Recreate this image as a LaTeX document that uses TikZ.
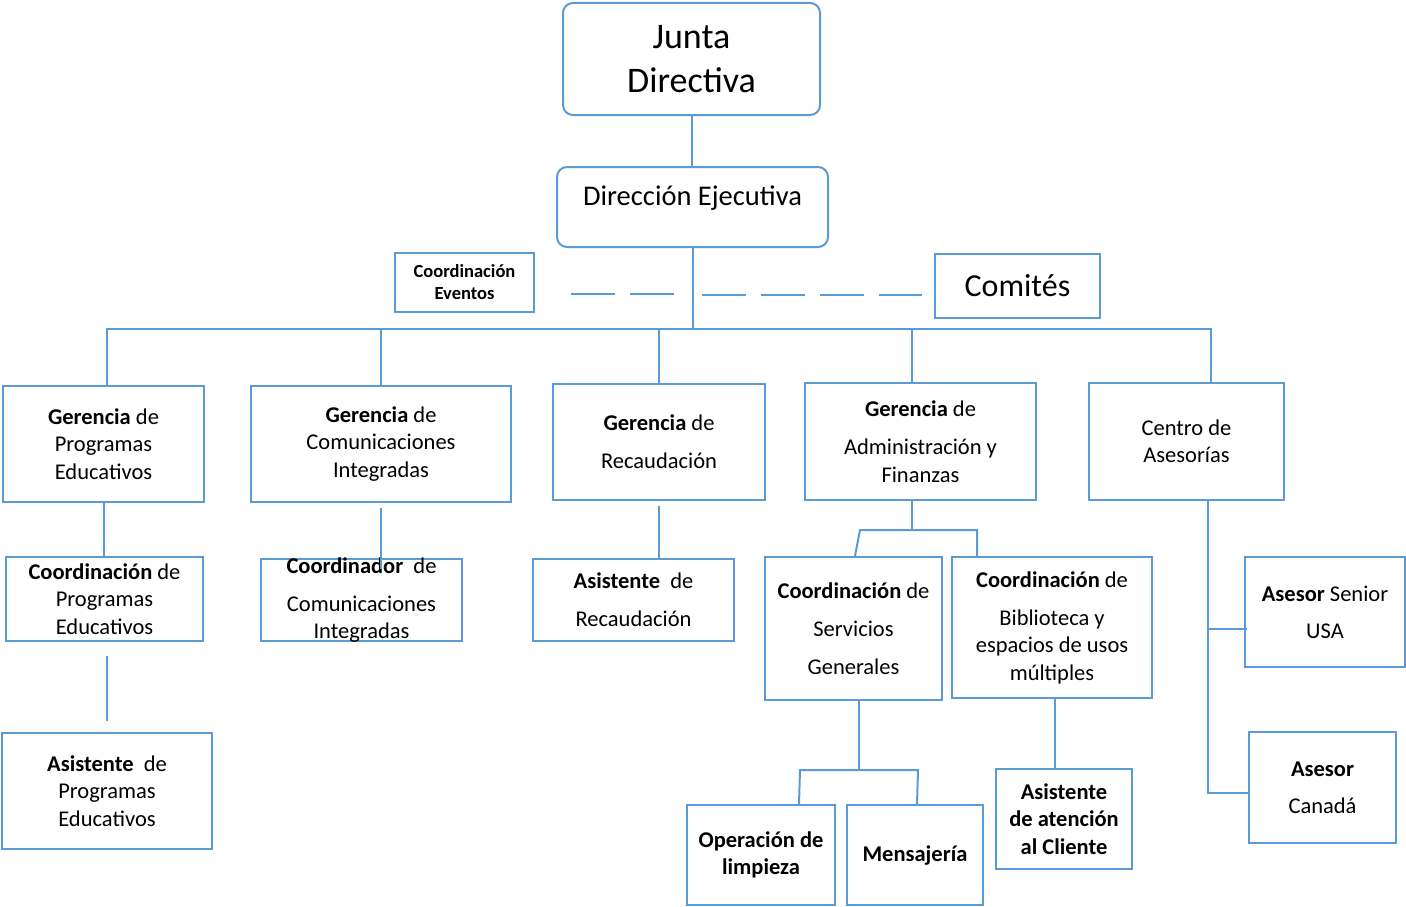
\documentclass[tikz,border=0pt]{standalone}
\usepackage{fontspec}
\setmainfont{Carlito}
\usetikzlibrary{positioning}
\definecolor{azul}{RGB}{91,155,213}

\begin{document}
\begin{tikzpicture}[x=1pt, y=-1pt,
    caja/.style={draw=azul, line width=2pt, inner sep=0pt, align=center, font=\fontsize{22.5}{27.5}\selectfont},
    cajar/.style={caja, rounded corners=10pt},
    linea/.style={draw=azul, line width=2pt},
    discontinua/.style={linea, dash pattern=on 44pt off 15pt}]
  \useasboundingbox (0,0) rectangle (1406,907);

  % Nodos
  \node[cajar, minimum width=257pt, minimum height=112pt, font=\fontsize{36}{44}\selectfont] (junta) at (691.5,59) {Junta\\Directiva};
  \node[cajar, minimum width=271pt, minimum height=80pt, font=\fontsize{28.5}{34}\selectfont, text height=20pt, text depth=24pt] (dir) at (692.5,207) {Dirección Ejecutiva};
  \node[caja, minimum width=139pt, minimum height=59pt, font=\bfseries\fontsize{18.5}{22}\selectfont] (ceve) at (464.5,282) {Coordinación\\Eventos};
  \node[caja, minimum width=165pt, minimum height=64pt, font=\fontsize{32}{39}\selectfont] (comites) at (1017.5,286) {Comités};

  \node[caja, minimum width=201pt, minimum height=116pt] (gpe) at (103.5,444) {\textbf{Gerencia} de\\Programas\\Educativos};
  \node[caja, minimum width=260pt, minimum height=116pt] (gci) at (381,444) {\textbf{Gerencia} de\\Comunicaciones\\Integradas};
  \node[caja, minimum width=212pt, minimum height=116pt] (grec) at (659,442) {\textbf{Gerencia} de\\[10.5pt]Recaudación};
  \node[caja, minimum width=231pt, minimum height=117pt] (gaf) at (920.5,441.5) {\textbf{Gerencia} de\\[10.5pt]Administración y\\Finanzas};
  \node[caja, minimum width=195pt, minimum height=117pt] (cas) at (1186.5,441.5) {Centro de\\Asesorías};

  \node[caja, minimum width=197pt, minimum height=84pt] (cpe) at (104.5,599) {\textbf{Coordinación} de\\Programas\\Educativos};
  \node[caja, minimum width=201pt, minimum height=82pt, inner ysep=-5pt] (cci) at (361.5,600) {\textbf{Coordinador}~~de\\[10.5pt]Comunicaciones\\Integradas};
  \node[caja, minimum width=201pt, minimum height=82pt] (arec) at (633.5,600) {\textbf{Asistente}~~de\\[10.5pt]Recaudación};
  \node[caja, minimum width=177pt, minimum height=143pt] (csg) at (853.5,628.5) {\textbf{Coordinación} de\\[10.5pt]Servicios\\[10.5pt]Generales};
  \node[caja, minimum width=200pt, minimum height=141pt] (cbib) at (1052,627.5) {\textbf{Coordinación} de\\[10.5pt]Biblioteca y\\espacios de usos\\múltiples};
  \node[caja, minimum width=160pt, minimum height=110pt] (usa) at (1325,612) {\textbf{Asesor} Senior\\[9.5pt]USA};

  \node[caja, minimum width=210pt, minimum height=116pt] (ape) at (107,791) {\textbf{Asistente}~~de\\Programas\\Educativos};
  \node[caja, minimum width=148pt, minimum height=100pt, font=\bfseries\fontsize{22.5}{27.5}\selectfont] (oplim) at (761,855) {Operación de\\limpieza};
  \node[caja, minimum width=136pt, minimum height=100pt, font=\bfseries\fontsize{22.5}{27.5}\selectfont] (mens) at (915,855) {Mensajería};
  \node[caja, minimum width=136pt, minimum height=100pt, font=\bfseries\fontsize{22.5}{27.5}\selectfont] (aac) at (1064,819) {Asistente\\de atención\\al Cliente};
  \node[caja, minimum width=147pt, minimum height=111pt] (can) at (1322.5,787.5) {\textbf{Asesor}\\[9.5pt]Canadá};

  \coordinate (bus) at (692,330);
  \coordinate (d1) at (571,294);
  \coordinate (d2) at (675,294);
  \coordinate (d3) at (702,295);
  \coordinate (d4) at (922,295);
  \coordinate (hor1) at (912,531);
  \coordinate (hor2) at (859,771);

  % Aristas
  \draw[linea] (junta.south) -- (junta.south |- dir.north);
  \draw[linea] (dir.south) -- (dir.south |- bus);
  \draw[discontinua] (d1) -- (d2);
  \draw[discontinua] (d3) -- (d4);
  \draw[linea] ([xshift=3.5pt]gpe.north) -- ++(0,-56) -- ++(1104,0) -- ([xshift=24.5pt]cas.north);
  \draw[linea] (gci.north) -- (gci.north |- bus);
  \draw[linea] (grec.north) -- (grec.north |- bus);
  \draw[linea] ([xshift=-8.5pt]gaf.north) -- ++(0,-53);

  \draw[linea] (gpe.south) -- (gpe.south |- cpe.north);
  \draw[linea, shorten <=14pt, shorten >=11pt] (ape.north |- cpe.south) -- (ape.north);
  \draw[linea, shorten <=5pt, shorten >=-11pt] (gci.south) -- (gci.south |- cci.north);
  \draw[linea, shorten <=5pt] (grec.south) -- (grec.south |- arec.north);
  \draw[linea] ([xshift=-8.5pt]gaf.south) -- (hor1);
  \draw[linea] ([xshift=1.5pt]csg.north) -- ++(5,-26) -| ([xshift=-75pt]cbib.north);
  \draw[linea] ([xshift=5.5pt]csg.south) -- (hor2);
  \draw[linea] ([xshift=38pt]oplim.north) -- ++(1,-34) -- ++(118,0) -- ([xshift=2pt]mens.north);
  \draw[linea] ([xshift=3pt]cbib.south) -- ++(0,71);
  \draw[linea] ([xshift=21.5pt]cas.south) |- ([yshift=-5.5pt]can.west);
  \draw[linea] ([xshift=-37pt,yshift=-17pt]usa.west) -- ([xshift=3pt,yshift=-17pt]usa.west);
\end{tikzpicture}
\end{document}
